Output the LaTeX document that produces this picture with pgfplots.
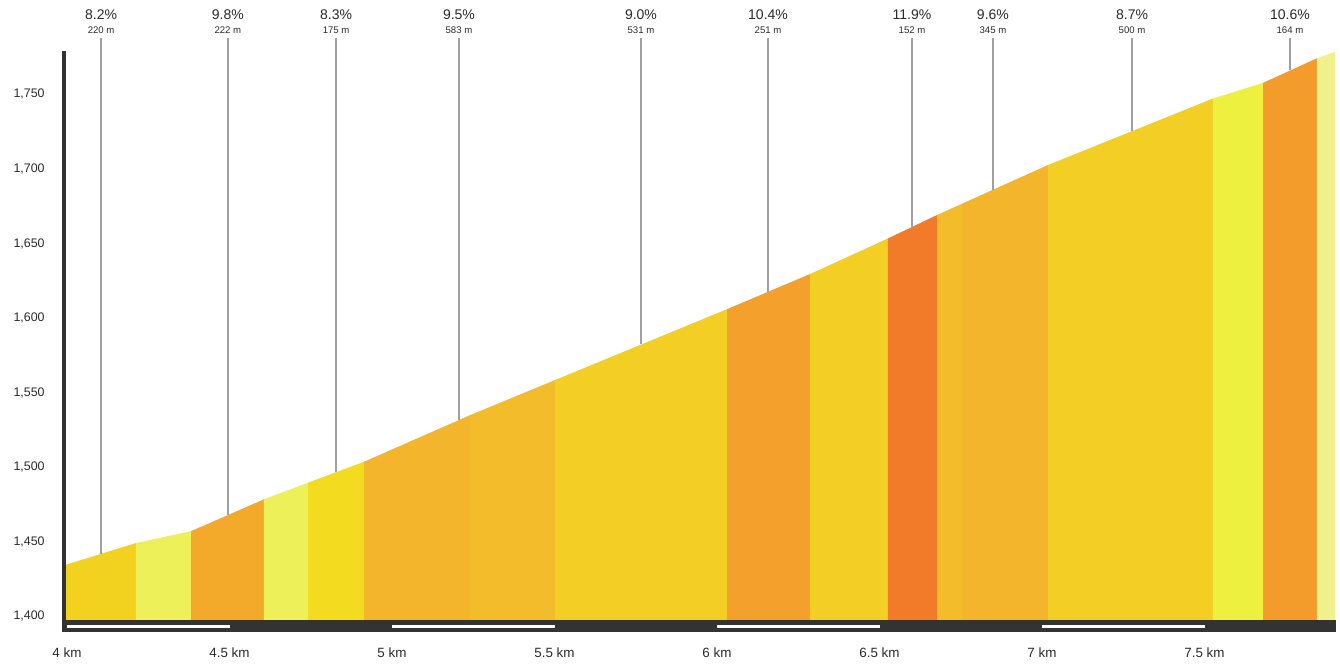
\documentclass[border=0pt]{standalone}
\usepackage{fontspec}
\setmainfont{Liberation Sans}
\usepackage{pgfplots}
\pgfplotsset{compat=1.18}
\definecolor{cyel}{HTML}{F3D21F}
\definecolor{cyelb}{HTML}{F3DC20}
\definecolor{cyelc}{HTML}{F3CE24}
\definecolor{clight}{HTML}{EEF05A}
\definecolor{clightb}{HTML}{EEF040}
\definecolor{cpale}{HTML}{F0F08C}
\definecolor{corg}{HTML}{F3AA2A}
\definecolor{corgb}{HTML}{F3A02C}
\definecolor{corgc}{HTML}{F39C2C}
\definecolor{coy}{HTML}{F3B52C}
\definecolor{coyb}{HTML}{F3BC2A}
\definecolor{cred}{HTML}{F27B2A}
\definecolor{bardark}{HTML}{333333}
\definecolor{linegray}{HTML}{A0A0A0}
\definecolor{txt}{HTML}{2A2A2A}
\begin{document}
\begin{tikzpicture}
\begin{axis}[
  scale only axis,
  width=635.5pt, height=284.6pt,
  xmin=3.99077, xmax=7.9015,
  ymin=1397.59, ymax=1779.2,
  clip=false,
  axis line style={draw=none},
  tick style={draw=none},
  xtick={4,4.5,5,5.5,6,6.5,7,7.5},
  xticklabels={4 km,4.5 km,5 km,5.5 km,6 km,6.5 km,7 km,7.5 km},
  ytick={1400,1450,1500,1550,1600,1650,1700,1750},
  xticklabel style={font=\fontsize{6.7}{8}\selectfont, text=txt, anchor=north, inner sep=0pt, yshift=-13.5pt},
  yticklabel style={font=\fontsize{6.2}{7.5}\selectfont, text=txt, anchor=east, inner sep=0pt, xshift=-9.5pt},
  /pgf/number format/1000 sep={,},
  /pgf/number format/assume math mode=true,
]
% profile segments
\addplot[draw=none, fill=cyel]   coordinates {(3.995,1397.59) (3.995,1434.5) (4.212,1449.2) (4.212,1397.59)} -- cycle;
\addplot[draw=none, fill=clight] coordinates {(4.212,1397.59) (4.212,1449.2) (4.382,1457.2) (4.382,1397.59)} -- cycle;
\addplot[draw=none, fill=corg]   coordinates {(4.382,1397.59) (4.382,1457.2) (4.606,1478.5) (4.606,1397.59)} -- cycle;
\addplot[draw=none, fill=clight] coordinates {(4.606,1397.59) (4.606,1478.5) (4.742,1489.7) (4.742,1397.59)} -- cycle;
\addplot[draw=none, fill=cyelb]  coordinates {(4.742,1397.59) (4.742,1489.7) (4.914,1503.7) (4.914,1397.59)} -- cycle;
\addplot[draw=none, fill=coy]    coordinates {(4.914,1397.59) (4.914,1503.7) (5.240,1534.9) (5.240,1397.59)} -- cycle;
\addplot[draw=none, fill=coyb]   coordinates {(5.240,1397.59) (5.240,1534.9) (5.502,1558.5) (5.502,1397.59)} -- cycle;
\addplot[draw=none, fill=cyelc]  coordinates {(5.502,1397.59) (5.502,1558.5) (6.031,1606.0) (6.031,1397.59)} -- cycle;
\addplot[draw=none, fill=corgb]  coordinates {(6.031,1397.59) (6.031,1606.0) (6.286,1629.5) (6.286,1397.59)} -- cycle;
\addplot[draw=none, fill=cyelc]  coordinates {(6.286,1397.59) (6.286,1629.5) (6.526,1653.4) (6.526,1397.59)} -- cycle;
\addplot[draw=none, fill=cred]   coordinates {(6.526,1397.59) (6.526,1653.4) (6.677,1669.1) (6.677,1397.59)} -- cycle;
\addplot[draw=none, fill=coyb]   coordinates {(6.677,1397.59) (6.677,1669.1) (6.754,1676.7) (6.754,1397.59)} -- cycle;
\addplot[draw=none, fill=coy]    coordinates {(6.754,1397.59) (6.754,1676.7) (7.018,1702.6) (7.018,1397.59)} -- cycle;
\addplot[draw=none, fill=cyelc]  coordinates {(7.018,1397.59) (7.018,1702.6) (7.526,1747.2) (7.526,1397.59)} -- cycle;
\addplot[draw=none, fill=clightb] coordinates {(7.526,1397.59) (7.526,1747.2) (7.680,1757.7) (7.680,1397.59)} -- cycle;
\addplot[draw=none, fill=corgc]  coordinates {(7.680,1397.59) (7.680,1757.7) (7.846,1774.2) (7.846,1397.59)} -- cycle;
\addplot[draw=none, fill=cpale]  coordinates {(7.846,1397.59) (7.846,1774.2) (7.902,1778.6) (7.902,1397.59)} -- cycle;
% bottom bar
\addplot[draw=none, fill=bardark] coordinates {(3.985,1389.5) (3.985,1397.59) (7.905,1397.59) (7.905,1389.5)} -- cycle;
\addplot[draw=none, fill=white] coordinates {(4.0,1391.9) (4.0,1394.2) (4.5,1394.2) (4.5,1391.9)} -- cycle;
\addplot[draw=none, fill=white] coordinates {(5.0,1391.9) (5.0,1394.2) (5.5,1394.2) (5.5,1391.9)} -- cycle;
\addplot[draw=none, fill=white] coordinates {(6.0,1391.9) (6.0,1394.2) (6.5,1394.2) (6.5,1391.9)} -- cycle;
\addplot[draw=none, fill=white] coordinates {(7.0,1391.9) (7.0,1394.2) (7.5,1394.2) (7.5,1391.9)} -- cycle;
% y axis line
\addplot[line width=2pt, color=bardark] coordinates {(3.99077,1389.5) (3.99077,1779.2)};
% label lines
\addplot[line width=0.75pt, color=linegray] coordinates {(4.105,1787.7) (4.105,1441.9)};
\addplot[line width=0.75pt, color=linegray] coordinates {(4.495,1787.7) (4.495,1467.9)};
\addplot[line width=0.75pt, color=linegray] coordinates {(4.828,1787.7) (4.828,1496.7)};
\addplot[line width=0.75pt, color=linegray] coordinates {(5.206,1787.7) (5.206,1531.6)};
\addplot[line width=0.75pt, color=linegray] coordinates {(5.766,1787.7) (5.766,1582.3)};
\addplot[line width=0.75pt, color=linegray] coordinates {(6.157,1787.7) (6.157,1617.6)};
\addplot[line width=0.75pt, color=linegray] coordinates {(6.600,1787.7) (6.600,1661.1)};
\addplot[line width=0.75pt, color=linegray] coordinates {(6.849,1787.7) (6.849,1686.0)};
\addplot[line width=0.75pt, color=linegray] coordinates {(7.277,1787.7) (7.277,1725.4)};
\addplot[line width=0.75pt, color=linegray] coordinates {(7.763,1787.7) (7.763,1766.0)};
% labels
\tikzset{pct/.style={font=\fontsize{7}{8}\selectfont, text=txt, inner sep=0pt, anchor=center},
         len/.style={font=\fontsize{4.8}{6}\selectfont, text=txt, inner sep=0pt, anchor=center}}
\node[pct] at (axis cs:4.105,1803.2) {8.2\%};   \node[len] at (axis cs:4.105,1793.1) {220 m};
\node[pct] at (axis cs:4.495,1803.2) {9.8\%};   \node[len] at (axis cs:4.495,1793.1) {222 m};
\node[pct] at (axis cs:4.828,1803.2) {8.3\%};   \node[len] at (axis cs:4.828,1793.1) {175 m};
\node[pct] at (axis cs:5.206,1803.2) {9.5\%};   \node[len] at (axis cs:5.206,1793.1) {583 m};
\node[pct] at (axis cs:5.766,1803.2) {9.0\%};   \node[len] at (axis cs:5.766,1793.1) {531 m};
\node[pct] at (axis cs:6.157,1803.2) {10.4\%};  \node[len] at (axis cs:6.157,1793.1) {251 m};
\node[pct] at (axis cs:6.600,1803.2) {11.9\%};  \node[len] at (axis cs:6.600,1793.1) {152 m};
\node[pct] at (axis cs:6.849,1803.2) {9.6\%};   \node[len] at (axis cs:6.849,1793.1) {345 m};
\node[pct] at (axis cs:7.277,1803.2) {8.7\%};   \node[len] at (axis cs:7.277,1793.1) {500 m};
\node[pct] at (axis cs:7.763,1803.2) {10.6\%};  \node[len] at (axis cs:7.763,1793.1) {164 m};
\end{axis}
\pgfresetboundingbox
\path[use as bounding box] (current axis.south west) ++(-32pt,-22.5pt) rectangle ++(670pt,332.5pt);
\end{tikzpicture}
\end{document}
